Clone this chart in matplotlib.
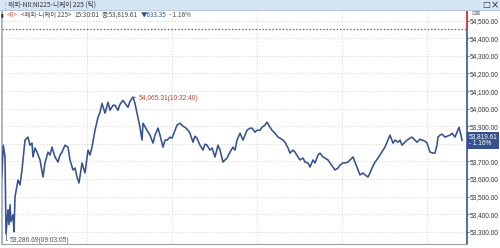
import matplotlib
matplotlib.use("Agg")
import matplotlib.pyplot as plt
from matplotlib.patches import Rectangle
from matplotlib.ticker import FuncFormatter

plt.rcParams['font.family'] = ['Noto Sans CJK KR', 'DejaVu Sans']

# tick position (chart order) and price
tick_pos = [1.7, 3.3, 5, 6, 8, 9, 10, 11, 13, 14, 15, 18, 20, 22, 25, 28, 30, 32, 33, 35,
            37, 40, 43, 45, 48, 50, 52, 55, 58, 60, 62, 65, 68, 70, 73, 75, 77, 79, 82, 85,
            88, 90, 92, 95, 98, 100, 102, 105, 108, 110, 113, 115, 118, 120, 123, 125, 128, 130, 133, 135,
            137, 140, 142, 143, 147, 150, 153, 155, 158, 160, 163, 165, 167, 170, 172, 175, 177, 180, 183, 185,
            188, 190, 193, 195, 197, 200, 203, 205, 207, 210, 212, 215, 218, 220, 223, 225, 227, 230, 233, 235,
            237, 240, 243, 245, 247, 250, 252, 255, 257, 260, 262, 265, 267, 270, 272, 275, 278, 280, 283, 285,
            288, 290, 293, 295, 298, 300, 303, 305, 308, 310, 313, 315, 318, 320, 323, 325, 328, 330, 333, 335,
            338, 340, 343, 345, 348, 350, 353, 355, 357, 360, 363, 365, 368, 370, 372, 375, 378, 380, 383, 385,
            387, 390, 393, 395, 398, 400, 402, 405, 407, 410, 412, 415, 417, 420, 422, 425, 427, 430, 433, 435,
            437, 438, 440, 442, 445, 447, 450, 452, 455, 457, 459, 461, 462]
price = [53611, 53792, 53725, 53287, 53425, 53340, 53453, 53357, 53396, 53300, 53498, 53594, 53566, 53651, 53821, 53838, 53792, 53804, 53725, 53776,
         53753, 53708, 53611, 53691, 53753, 53736, 53781, 53725, 53696, 53736, 53753, 53792, 53781, 53708, 53651, 53662, 53611, 53577, 53691, 53634,
         53764, 53736, 53781, 53877, 53951, 53979, 54030, 53974, 54036, 53991, 54019, 54019, 53991, 54025, 54047, 54030, 54008, 54042, 54065.31, 54030,
         53974, 53894, 53821, 53917, 53877, 53849, 53804, 53849, 53889, 53849, 53781, 53821, 53821, 53838, 53832, 53877, 53906, 53917, 53900, 53894,
         53877, 53860, 53809, 53843, 53832, 53792, 53764, 53798, 53792, 53764, 53776, 53725, 53792, 53764, 53696, 53708, 53719, 53753, 53781, 53764,
         53821, 53860, 53821, 53849, 53877, 53889, 53889, 53866, 53877, 53877, 53894, 53906, 53923, 53894, 53877, 53860, 53838, 53832, 53821, 53809,
         53776, 53747, 53764, 53753, 53725, 53708, 53719, 53696, 53691, 53668, 53708, 53691, 53736, 53747, 53725, 53719, 53708, 53691, 53668, 53651,
         53662, 53679, 53691, 53691, 53696, 53708, 53725, 53696, 53668, 53623, 53634, 53623, 53611, 53634, 53662, 53696, 53719, 53736, 53764, 53781,
         53809, 53849, 53804, 53821, 53809, 53821, 53792, 53809, 53821, 53832, 53838, 53821, 53809, 53826, 53821, 53815, 53804, 53753, 53747, 53747,
         53792, 53838, 53849, 53855, 53838, 53843, 53849, 53860, 53838, 53866, 53894, 53849, 53819.61]

prev_close = 54452.96
y_ticks = [53300, 53400, 53500, 53600, 53700, 53900, 54000, 54100, 54200, 54300, 54400, 54500]
grid_levels = [53300, 53400, 53500, 53600, 53700, 53800, 53900, 54000, 54100, 54200, 54300, 54400, 54500]
v_grid = [87, 172, 257, 342, 427]

title = "해외-NII:NI225-니케이 225 (틱)"
high_label = "54,065.31(10:32:40)"
low_label = "53,286.69(09:03:05)"

W, H = 500, 248
fig = plt.figure(figsize=(W / 100, H / 100), dpi=100)
fig.patch.set_facecolor("white")

# title bar
fig.patches.append(Rectangle((0, 1 - 10 / H), 1, 10 / H, transform=fig.transFigure,
                             facecolor="#d5e5f3", edgecolor="none", zorder=0))
fig.text(8 / W, 1 - 5 / H, title, fontsize=4.8, color="#333333", va="center")
fig.text(2 / W, 1 - 5 / H, "⋮", fontsize=5, color="#888888", va="center", family="DejaVu Sans")
fig.text(482 / W, 1 - 5 / H, "□", fontsize=6, color="#333333", va="center", family="DejaVu Sans")
fig.text(491 / W, 1 - 5 / H, "×", fontsize=7, color="#333333", va="center", family="DejaVu Sans")
fig.patches.append(Rectangle((0, 1 - 11 / H), 1, 1 / H, transform=fig.transFigure,
                             facecolor="#b8c8d8", edgecolor="none"))

ax = fig.add_axes([2 / W, 4 / H, 465 / W, 234 / H])
ax.set_xlim(2, 467)
ax.set_ylim(53230, 54561)

for lv in grid_levels:
    ax.axhline(lv, color="#d6d6d6", lw=0.6, ls=(0, (1.5, 2)), zorder=1)
for gx in v_grid:
    ax.axvline(gx, color="#d6d6d6", lw=0.6, ls=(0, (1.5, 2)), zorder=1)
ax.axhline(prev_close, color="#666666", lw=0.9, ls=(0, (1.2, 1.5)), zorder=2)

ax.plot(tick_pos, price, color="#35528f", lw=1.15, zorder=3)

# high / low markers
i_hi = price.index(max(price))
i_lo = price.index(min(price))
ax.annotate(high_label, xy=(tick_pos[i_hi], price[i_hi]), xytext=(4, -1), textcoords="offset points",
            fontsize=4.8, color="#b5473a", va="center", ha="left", family="Liberation Sans",
            arrowprops=dict(arrowstyle="-", color="#b5473a", lw=0.6, shrinkA=0, shrinkB=0))
ax.annotate(low_label, xy=(tick_pos[i_lo], price[i_lo]), xytext=(3, -4.5), textcoords="offset points",
            fontsize=4.8, color="#46536e", va="center", ha="left", family="Liberation Sans",
            arrowprops=dict(arrowstyle="-", color="#46536e", lw=0.5, shrinkA=0, shrinkB=0,
                            connectionstyle="angle,angleA=0,angleB=90,rad=0"))

# right axis
ax.yaxis.tick_right()
ax.set_yticks(y_ticks)
ax.yaxis.set_major_formatter(FuncFormatter(lambda v, p: f"{v:,.2f}"))
ax.tick_params(axis="y", labelsize=4.7, labelcolor="#333333", length=1.5, width=0.5,
               color="#333333", pad=0.3)
for lab in ax.get_yticklabels():
    lab.set_family("Liberation Sans")
ax.set_xticks([])
ax.spines["top"].set_visible(False)
ax.spines["left"].set_color("#9aa8c0")
ax.spines["left"].set_linewidth(1.2)
ax.spines["bottom"].set_color("#a0a0a0")
ax.spines["right"].set_color("#35528f")
ax.spines["right"].set_linewidth(1.2)
ax.plot([467, 467], [prev_close, 54561], color="#e0403a", lw=1.3, clip_on=False, zorder=5)

# last value box
last = price[-1]
chg = last - prev_close
ax.annotate(f"{last:,.2f}\n- {abs(chg) / prev_close * 100:.2f}%", xy=(467, last),
            xytext=(1.2, 0), textcoords="offset points", fontsize=4.7, color="white",
            va="center", ha="left", linespacing=1.0, annotation_clip=False, family="Liberation Sans",
            bbox=dict(boxstyle="square,pad=0.2", facecolor="#35528f", edgecolor="none"))

# legend row, pieces placed one after another
ly = 1 - 15 / H
fig.text(1 / W, ly, "▮", fontsize=3.5, color="#222222", va="center", family="DejaVu Sans")
pieces = [("<R>", "#d06a3a"), ("<해외-니케이 225>", "#444444"), ("15:30:01", "#444444"),
          (f"종:{last:,.2f}", "#444444"), (f"▼{abs(chg):.2f}", "#2c4a9a"),
          (f"- {abs(chg) / prev_close * 100:.2f}%", "#444444")]
renderer = fig.canvas.get_renderer()
x0 = 7
for txt, col in pieces:
    t = fig.text(x0 / W, ly, txt, fontsize=4.6, color=col, va="center")
    bb = t.get_window_extent(renderer)
    x0 = bb.x1 + 2.8
fig.text(471 / W, ly + 2 / H, "⊟⊠", fontsize=4, color="#777777", va="center", family="DejaVu Sans")

plt.savefig("out.png", dpi=100)
